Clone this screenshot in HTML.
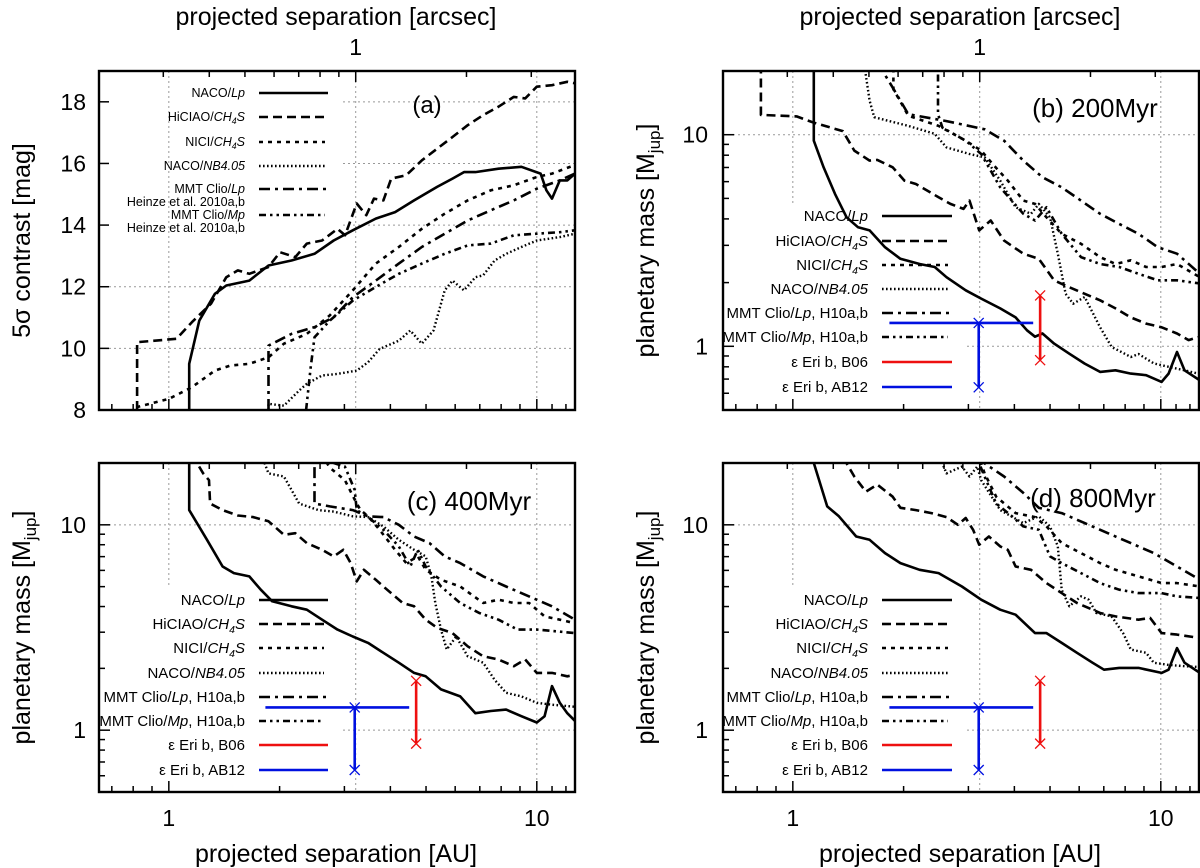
<!DOCTYPE html>
<html><head><meta charset="utf-8"><style>
body{margin:0;background:#fff;}
svg{display:block;font-family:"Liberation Sans",sans-serif;}
</style></head><body>
<svg id="fig" width="1200" height="868" viewBox="0 0 1200 868" xmlns="http://www.w3.org/2000/svg"></svg>
<script>
// ---------- data (separation in AU, contrast in mag / mass in Mjup) ----------
// panel (a) contrast
const aLpX=[1.136,1.136,1.21,1.334,1.433,1.655,1.866,2.154,2.488,2.805,3.162,3.652,4.12,4.64,5.36,5.90,6.34,6.81,7.87,9.08,10.24,10.62,11.0,11.55,12.1,12.7];
const aLpY=[8,9.5,10.9,11.77,12.04,12.2,12.69,12.85,13.07,13.5,13.83,14.21,14.42,14.8,15.24,15.51,15.72,15.72,15.83,15.89,15.67,15.13,14.86,15.45,15.45,15.67];
const aHiX=[0.82,0.82,1.049,1.155,1.302,1.433,1.54,1.655,1.866,2.005,2.207,2.371,2.61,2.873,3.014,3.24,3.44,3.61,3.83,4.02,4.42,4.87,5.36,5.9,6.49,7.15,7.87,8.66,9.3,10,11.0,12.1,12.7];
const aHiY=[8,10.2,10.31,10.85,11.45,12.31,12.53,12.42,12.64,13.12,12.96,13.4,13.5,13.88,13.67,14.7,14.32,14.86,14.8,15.51,15.62,16.1,16.48,16.86,17.24,17.57,17.84,18.16,18.11,18.49,18.54,18.65,18.6];
const aNiX=[0.816,1,1.155,1.334,1.467,1.655,1.866,2.054,2.371,2.738,3.162,3.652,4.217,4.87,5.62,6.49,7.5,8.66,10,11.0,12.7];
const aNiY=[8.09,8.36,8.74,9.28,9.44,9.5,9.71,10.15,10.47,11.07,11.88,12.75,13.29,13.88,14.37,14.8,15.13,15.29,15.56,15.67,15.95];
const aNbX=[1.866,1.866,2.054,2.26,2.371,2.61,2.873,3.24,3.48,3.74,4.217,4.53,4.87,5.24,5.62,5.9,6.34,6.81,7.15,7.68,8.26,9.08,10,11.55,12.7];
const aNbY=[8,8.2,8.14,8.63,8.85,9.12,9.17,9.28,9.55,9.98,10.25,10.58,10.15,10.58,11.88,12.2,11.88,12.31,12.37,12.85,13.07,13.29,13.5,13.61,13.72];
const aClLX=[1.866,1.866,2.154,2.488,2.805,3.162,3.652,4.217,4.87,5.62,6.49,7.5,8.66,10,11.55,12.7];
const aClLY=[8,10.09,10.47,10.69,11.01,11.66,12.2,12.75,13.29,13.72,14.15,14.48,14.8,15.18,15.45,15.67];
const aClMX=[2.36,2.43,2.488,2.738,3.162,3.652,4.217,4.87,5.62,6.49,7.5,8.66,10,11.55,12.7];
const aClMY=[8,9.39,10.36,10.9,11.55,11.99,12.42,12.75,13.07,13.34,13.4,13.67,13.72,13.77,13.83];
// panel (b) 200 Myr mass
const bLpX=[1.14,1.14,1.212,1.302,1.40,1.504,1.617,1.78,1.96,2.21,2.43,2.616,2.95,3.25,3.66,4.03,4.33,4.55,4.77,5.13,5.64,6.21,6.84,7.53,8.29,9.12,10.05,10.5,11.07,11.6,12.77];
const bLpY=[25,9.37,7.01,5.25,4.07,3.65,3.53,2.94,2.59,2.45,2.37,2.12,1.84,1.68,1.51,1.37,1.19,1.11,1.15,1.03,0.923,0.828,0.757,0.77,0.743,0.73,0.679,0.743,0.94,0.77,0.69];
const bHiX=[0.819,0.819,1.024,1.14,1.367,1.469,1.617,1.697,1.868,2.01,2.16,2.32,2.49,2.68,2.91,3.02,3.21,3.45,3.75,4.23,4.66,5.13,5.64,6.21,6.84,7.53,8.29,9.12,10.05,11.07,11.9,12.77];
const bHiY=[25,12.4,12.2,11.4,10.4,8.41,7.54,7.6,7.01,6.07,5.85,5.44,5.06,4.71,4.46,4.88,3.53,3.93,3.16,2.74,2.59,2.05,1.90,1.77,1.65,1.51,1.37,1.28,1.23,1.15,1.07,1.11];
const bNiX=[1.876,1.876,2.06,2.49,2.95,3.25,3.49,3.84,4.23,4.55,4.89,5.38,6.07,6.84,7.53,8.29,9.12,10.05,11.07,12.77];
const bNiY=[25,16.4,12.3,11.0,9.37,8.41,7.27,6.07,4.88,4.71,4.07,3.40,3.05,2.64,2.45,2.55,2.37,2.37,2.45,2.12];
const bNbX=[1.56,1.617,1.664,2.06,2.43,2.616,3.02,3.32,3.66,4.03,4.44,4.66,5.0,5.25,5.51,5.78,6.21,6.84,7.35,8.29,8.7,9.57,10.5,11.6,12.77];
const bNbY=[22,14.5,12.1,11.0,10.1,8.71,8.11,7.82,6.07,4.54,4.23,4.71,4.07,2.74,1.77,1.59,1.71,1.23,0.993,0.89,0.92,0.83,0.80,0.77,0.74];
const bClLX=[1.697,1.868,2.06,2.616,3.32,3.75,4.23,4.77,5.38,6.07,6.84,7.71,8.7,9.81,11.07,12.77];
const bClLY=[22,16.7,12.5,11.6,10.6,9.37,7.54,6.29,5.64,4.88,4.23,3.79,3.40,2.94,2.74,2.20];
const bClMX=[2.48,2.48,2.55,2.95,3.25,3.66,4.23,4.55,4.89,5.38,6.07,6.84,7.71,8.7,9.81,11.07,12.77];
const bClMY=[25,12.5,10.8,9.37,8.11,5.64,4.23,3.93,4.54,3.40,2.64,2.45,2.37,2.20,2.05,2.05,1.98];
// panel (c) 400 Myr mass
const cLpX=[1.136,1.136,1.27,1.40,1.503,1.655,1.778,1.91,2.154,2.371,2.61,2.873,3.162,3.48,3.83,4.217,4.64,4.99,5.49,6.19,6.81,7.5,8.25,9.08,10,10.5,11.0,11.55,12.1,12.7];
const cLpY=[25,11.8,8.45,6.27,5.82,5.61,4.83,4.24,4.01,3.86,3.45,3.09,2.86,2.66,2.38,2.13,1.90,1.83,1.58,1.46,1.21,1.24,1.26,1.17,1.09,1.17,1.64,1.36,1.21,1.11];
const cHiX=[1.155,1.24,1.286,1.295,1.40,1.54,1.695,1.866,2.054,2.207,2.371,2.61,2.805,2.98,3.12,3.24,3.39,3.652,3.92,4.32,4.64,4.99,5.36,5.9,6.49,7.15,7.87,8.66,9.3,10,11.0,12.1,12.7];
const cHiY=[22,17.8,16.5,12.7,11.8,11.1,10.9,10.4,8.94,9.1,8.15,7.56,7.02,7.56,6.51,5.30,6.04,5.40,4.83,4.16,4.01,3.45,3.15,2.97,2.56,2.29,2.21,2.05,2.21,1.90,1.90,1.83,1.86];
const cNiX=[2.6,2.738,3.01,3.24,3.32,3.48,3.74,4.12,4.42,4.75,4.99,5.49,6.19,7.15,7.87,8.66,9.53,10.5,11.55,12.7];
const cNiY=[22,19.0,16.5,12.7,11.8,11.0,9.46,7.56,6.51,7.02,6.04,5.40,5.01,4.16,4.32,4.16,4.16,3.58,3.45,3.32];
const cNbX=[1.82,1.866,2.054,2.154,2.26,2.55,2.805,3.162,3.48,3.83,4.217,4.64,4.99,5.17,5.30,5.49,5.69,6.04,6.49,7.15,7.68,8.25,9.08,10,11.0,12.1,12.7];
const cNbY=[20,17.8,17.2,14.8,12.7,11.8,11.6,11.0,10.9,9.82,8.45,7.56,7.02,5.61,4.16,3.09,2.47,2.86,2.29,2.13,1.76,1.52,1.46,1.36,1.33,1.31,1.30];
const cClLX=[2.488,2.488,2.738,3.162,3.48,3.83,4.217,4.64,5.11,5.62,6.19,7.15,8.25,9.53,11.0,12.7];
const cClLY=[25,12.7,12.3,11.8,11.0,10.9,10.0,8.77,8.15,7.02,6.51,5.61,5.01,4.48,4.01,3.45];
const cClMX=[2.805,3.01,3.20,3.24,3.48,3.83,4.217,4.53,4.75,4.99,5.49,6.19,6.98,7.87,8.87,10,11.3,12.7];
const cClMY=[20,19.2,14.8,11.8,10.9,9.46,7.85,6.27,7.56,6.27,5.01,4.16,3.72,3.45,3.09,3.09,3.03,2.97];
// panel (d) 800 Myr mass
const dLpX=[1.14,1.24,1.334,1.487,1.617,1.78,1.96,2.21,2.49,2.88,3.25,3.66,4.03,4.55,4.89,5.38,5.92,6.52,7.01,7.71,8.7,10.05,10.5,11.07,11.6,12.77];
const dLpY=[20,12.3,11.0,8.77,8.45,7.28,6.51,6.04,5.82,5.01,4.32,3.86,3.65,2.97,2.97,2.66,2.38,2.13,1.97,2.01,2.01,1.90,1.97,2.51,2.13,1.90];
const dHiX=[1.35,1.40,1.469,1.58,1.697,1.868,1.96,2.16,2.38,2.616,2.81,2.95,3.09,3.21,3.41,3.66,3.84,4.03,4.44,4.89,5.38,5.92,6.84,7.53,8.7,9.35,10.05,11.07,12.77];
const dHiY=[25,19.9,17.2,14.5,15.7,13.7,12.1,11.8,11.4,10.9,10.0,10.8,9.46,8.0,8.77,7.85,7.56,6.27,6.04,5.2,4.65,4.16,3.72,3.58,3.45,3.52,2.97,2.92,2.81];
const dNiX=[3.2,3.25,3.32,3.57,4.03,4.55,4.89,5.38,6.07,6.84,7.53,8.7,10.05,11.07,12.77];
const dNiY=[25,19.9,17.8,13.7,11.4,10.9,9.82,8.15,7.28,6.51,6.04,5.61,5.2,5.2,5.01];
const dNbX=[2.5,2.55,2.616,2.88,3.02,3.17,3.25,3.66,4.23,4.66,5.0,5.25,5.38,5.64,6.07,6.37,6.68,7.35,7.9,8.29,9.12,9.57,10.5,11.6,12.7];
const dNbY=[22,19.9,17.8,19.2,17.2,19.2,16.5,11.8,10.2,11.0,9.82,7.85,4.83,4.01,4.48,4.32,3.72,3.58,2.97,2.47,2.38,2.13,2.08,2.05,2.03];
const dClLX=[3.25,3.32,3.75,4.23,4.66,5.38,6.21,7.18,8.29,9.57,11.07,12.77];
const dClLY=[22,19.9,17.2,14.3,12.1,11.4,10.2,9.1,8.15,7.28,6.27,5.40];
const dClMX=[3.15,3.21,3.32,3.57,3.94,4.23,4.66,5.0,5.38,6.07,6.84,7.71,8.7,10.05,11.07,12.77];
const dClMY=[25,19.9,17.2,12.7,11.0,9.82,9.46,7.02,6.51,5.82,5.2,4.83,4.65,4.65,4.48,4.4];
// epsilon Eri b estimates
const epsAB12Sep=[3.2]; const epsAB12SepLo=[1.83]; const epsAB12SepHi=[4.5];
const epsAB12Mass=[1.29]; const epsAB12MassLo=[0.64];
const epsB06Sep=[4.7]; const epsB06MassLo=[0.86]; const epsB06MassHi=[1.74];
// axis ticks
const contrastTicks=[8,10,12,14,16,18];
const massMajor=[1,10];
const massMinor=[0.6,0.7,0.8,0.9,2,3,4,5,6,7,8,9];
const auMajor=[1,10];
const auMinor=[0.7,0.8,0.9,2,3,4,5,6,7,8,9,11,12];
const arcsecMajor=[1];
const arcsecMinor=[0.3,0.4,0.5,0.6,0.7,0.8,0.9,2,3];
const DIST=3.22;

const NS="http://www.w3.org/2000/svg";
const svg=document.getElementById('fig');
function mk(tag,attrs,parent){const e=document.createElementNS(NS,tag);for(const k in attrs)e.setAttribute(k,attrs[k]);(parent||svg).appendChild(e);return e;}
const XMIN=0.646,XMAX=12.7;
const panels={
 a:{x0:99,x1:575,y0:71,y1:410,lin:true,ymin:8,ymax:19},
 b:{x0:723,x1:1199,y0:71,y1:410,ymin:0.5,ymax:20},
 c:{x0:99,x1:575,y0:463,y1:792,ymin:0.5,ymax:20},
 d:{x0:723,x1:1199,y0:463,y1:792,ymin:0.5,ymax:20}
};
function xs(p,v){return p.x0+(Math.log10(v)-Math.log10(XMIN))/(Math.log10(XMAX)-Math.log10(XMIN))*(p.x1-p.x0);}
function ys(p,v){if(p.lin)return p.y1-(v-p.ymin)/(p.ymax-p.ymin)*(p.y1-p.y0);return p.y1-(Math.log10(v)-Math.log10(p.ymin))/(Math.log10(p.ymax)-Math.log10(p.ymin))*(p.y1-p.y0);}

const styles={
 lp:{dash:"",w:2.6},hi:{dash:"9,5",w:2.6},ni:{dash:"4,5",w:2.6},nb:{dash:"1.6,2.4",w:2.4},
 cll:{dash:"11,5,3,5",w:2.6},clm:{dash:"7,4,2.5,4,2.5,4",w:2.6}
};
const seriesSets={
 a:[['naco-lp',aLpX,aLpY,'lp'],['hiciao-ch4s',aHiX,aHiY,'hi'],['nici-ch4s',aNiX,aNiY,'ni'],['naco-nb405',aNbX,aNbY,'nb'],['mmt-clio-lp',aClLX,aClLY,'cll'],['mmt-clio-mp',aClMX,aClMY,'clm']],
 b:[['naco-lp',bLpX,bLpY,'lp'],['hiciao-ch4s',bHiX,bHiY,'hi'],['nici-ch4s',bNiX,bNiY,'ni'],['naco-nb405',bNbX,bNbY,'nb'],['mmt-clio-lp',bClLX,bClLY,'cll'],['mmt-clio-mp',bClMX,bClMY,'clm']],
 c:[['naco-lp',cLpX,cLpY,'lp'],['hiciao-ch4s',cHiX,cHiY,'hi'],['nici-ch4s',cNiX,cNiY,'ni'],['naco-nb405',cNbX,cNbY,'nb'],['mmt-clio-lp',cClLX,cClLY,'cll'],['mmt-clio-mp',cClMX,cClMY,'clm']],
 d:[['naco-lp',dLpX,dLpY,'lp'],['hiciao-ch4s',dHiX,dHiY,'hi'],['nici-ch4s',dNiX,dNiY,'ni'],['naco-nb405',dNbX,dNbY,'nb'],['mmt-clio-lp',dClLX,dClLY,'cll'],['mmt-clio-mp',dClMX,dClMY,'clm']]
};
const legendA=[['NACO/','Lp','','',false],['HiCIAO/','CH','4','S',false],['NICI/','CH','4','S',false],['NACO/','NB4.05','','',false],['MMT Clio/','Lp','','',true],['MMT Clio/','Mp','','',true]];
const legendM=[['NACO/','Lp','',''],['HiCIAO/','CH','4','S'],['NICI/','CH','4','S'],['NACO/','NB4.05','',''],['MMT Clio/','Lp','',', H10a,b'],['MMT Clio/','Mp','',', H10a,b'],['ε Eri b, B06','','',''],['ε Eri b, AB12','','','']];
const legKeys=['lp','hi','ni','nb','cll','clm','red','blue'];

const defs=mk('defs',{});
for(const k in panels){const p=panels[k];const cp=mk('clipPath',{id:'clip'+k},defs);mk('rect',{x:p.x0,y:p.y0,width:p.x1-p.x0,height:p.y1-p.y0},cp);}

function text(x,y,str,size,anchor,name,parent){const t=mk('text',{x:x,y:y,'font-size':size,'text-anchor':anchor||'middle',fill:'#000'},parent);t.textContent=str;


return t;}

const panelInfo={
 a:{legX:245,l0:259,l1:328,rows:[93,117,142,166,189,215],fs:12.5,label:'(a)',lx:427,ly:113,lfs:24,gx1Top:71,gx1Bot:410,boxX:343,boxY1:235},
 b:{legX:868,l0:882,l1:952,rows:[216,241,265,289,313,337,362,387],fs:15,label:'(b) 200Myr',lx:1095,ly:117,lfs:26,gridStop:205,hStart:967},
 c:{legX:245,l0:259,l1:328,rows:[600,624,648,673,697,721,745,770],fs:15,label:'(c) 400Myr',lx:469,ly:510,lfs:26,gridStop:587,hStart:343},
 d:{legX:868,l0:882,l1:952,rows:[600,624,648,673,697,721,745,770],fs:15,label:'(d) 800Myr',lx:1093,ly:507,lfs:26,gridStop:587,hStart:967}
};

for(const k in panels){
 const p=panels[k],info=panelInfo[k];
 const g=mk('g',{});
 
 
 const grid=mk('g',{stroke:'#999','stroke-width':1,'stroke-dasharray':'2,3'},g);
 
 
 // vertical grids
 const xa=xs(p,DIST);
 mk('line',{x1:xa,x2:xa,y1:p.y0,y2:p.y1},grid);
 const x10=xs(p,10);
 mk('line',{x1:x10,x2:x10,y1:p.y0,y2:p.y1},grid);
 const x1=xs(p,1);
 mk('line',{x1:x1,x2:x1,y1:p.y0,y2:(k==='a'?p.y1:info.gridStop)},grid);
 if(p.lin){
  contrastTicks.slice(1).forEach(v=>{const y=ys(p,v);mk('line',{x1:(v>=14?info.boxX:p.x0),x2:p.x1,y1:y,y2:y},grid);});
 } else {
  const y10=ys(p,10),y1=ys(p,1);
  mk('line',{x1:p.x0,x2:p.x1,y1:y10,y2:y10},grid);
  mk('line',{x1:info.hStart,x2:p.x1,y1:y1,y2:y1},grid);
 }
 // series
 const sg=mk('g',{'clip-path':'url(#clip'+k+')',fill:'none',stroke:'#000','stroke-linejoin':'round'},g);
 seriesSets[k].forEach(s=>{
  const st=styles[s[3]];
  const d=s[1].map((v,i)=>(i?'L':'M')+xs(p,v).toFixed(1)+','+ys(p,s[2][i]).toFixed(1)).join(' ');
  const path=mk('path',{d:d,'stroke-width':st.w,'stroke-dasharray':st.dash},sg);
  
  
 });
 // eps Eri markers
 if(!p.lin){
  const mg=mk('g',{'stroke-width':2.6},g);
  
  
  const bx=xs(p,epsAB12Sep[0]),by=ys(p,epsAB12Mass[0]),byl=ys(p,epsAB12MassLo[0]);
  mk('line',{x1:xs(p,epsAB12SepLo[0]),x2:xs(p,epsAB12SepHi[0]),y1:by,y2:by,stroke:'#0010e0'},mg);
  mk('line',{x1:bx,x2:bx,y1:by,y2:byl,stroke:'#0010e0'},mg);
  const rx=xs(p,epsB06Sep[0]),ry0=ys(p,epsB06MassLo[0]),ry1=ys(p,epsB06MassHi[0]);
  mk('line',{x1:rx,x2:rx,y1:ry0,y2:ry1,stroke:'#ee1010'},mg);
  [[bx,by,'#0010e0'],[bx,byl,'#0010e0'],[rx,ry0,'#ee1010'],[rx,ry1,'#ee1010']].forEach(c=>{
   mk('path',{d:`M${c[0]-5},${c[1]-5}L${c[0]+5},${c[1]+5}M${c[0]-5},${c[1]+5}L${c[0]+5},${c[1]-5}`,stroke:c[2],'stroke-width':1.3},mg);
  });
 }
 // legend
 const lg=mk('g',{},g);
 
 
 if(p.lin){
  legendA.forEach((e,i)=>{
   const y=info.rows[i];
   const t=mk('text',{x:info.legX,y:y+4,'font-size':info.fs,'text-anchor':'end'},lg);
   
   
   mk('tspan',{},t).textContent=e[0];
   mk('tspan',{'font-style':'italic'},t).textContent=e[1];
   if(e[2]){mk('tspan',{'font-style':'italic','font-size':info.fs*0.7,dy:3},t).textContent=e[2];mk('tspan',{'font-style':'italic',dy:-3},t).textContent=e[3];}
   if(e[4]){const h=text(info.legX,y+17,'Heinze et al. 2010a,b',info.fs,'end','legend-reference',lg);}
   const st=styles[legKeys[i]];
   mk('line',{x1:info.l0,x2:(legKeys[i]==='ni'||legKeys[i]==='clm'||legKeys[i]==='nb')?info.l1-3:info.l1,y1:y,y2:y,stroke:'#000','stroke-width':st.w,'stroke-dasharray':st.dash},lg);
  });
 } else {
  legendM.forEach((e,i)=>{
   const y=info.rows[i];
   const t=mk('text',{x:info.legX,y:y+5,'font-size':info.fs,'text-anchor':'end'},lg);
   
   
   mk('tspan',{},t).textContent=e[0];
   if(e[1])mk('tspan',{'font-style':'italic'},t).textContent=e[1];
   if(e[2]){mk('tspan',{'font-style':'italic','font-size':info.fs*0.7,dy:4},t).textContent=e[2];mk('tspan',{'font-style':'italic',dy:-4},t).textContent=e[3];}
   else if(e[3]){mk('tspan',{},t).textContent=e[3];}
   const key=legKeys[i];
   if(key==='red'||key==='blue'){
    mk('line',{x1:info.l0,x2:info.l1,y1:y,y2:y,stroke:key==='red'?'#ee1010':'#0010e0','stroke-width':2.6},lg);
   } else {
    const st=styles[key];
    mk('line',{x1:info.l0,x2:(key==='ni'||key==='clm'||key==='nb')?info.l1-4:info.l1,y1:y,y2:y,stroke:'#000','stroke-width':st.w,'stroke-dasharray':st.dash},lg);
   }
  });
 }
 text(info.lx,info.ly,info.label,info.lfs,'middle','panel-label-'+k,g);
 // frame
 const fr=mk('rect',{x:p.x0,y:p.y0,width:p.x1-p.x0,height:p.y1-p.y0,fill:'none',stroke:'#000','stroke-width':2.4},g);
 
 
 // ticks
 const tg=mk('g',{stroke:'#000','stroke-width':1.5},g);
 
 
 auMajor.forEach(v=>{const x=xs(p,v);mk('line',{x1:x,x2:x,y1:p.y1,y2:p.y1-11},tg);});
 auMinor.forEach(v=>{const x=xs(p,v);if(x>p.x0&&x<p.x1)mk('line',{x1:x,x2:x,y1:p.y1,y2:p.y1-6},tg);});
 arcsecMajor.forEach(v=>{const x=xs(p,v*DIST);mk('line',{x1:x,x2:x,y1:p.y0,y2:p.y0+11},tg);});
 arcsecMinor.forEach(v=>{const x=xs(p,v*DIST);if(x>p.x0&&x<p.x1)mk('line',{x1:x,x2:x,y1:p.y0,y2:p.y0+6},tg);});
 const tx=(k==='a'||k==='c')?86:708;
 if(p.lin){
  contrastTicks.forEach(v=>{const y=ys(p,v);mk('line',{x1:p.x0,x2:p.x0+10,y1:y,y2:y},tg);text(tx,y+8,String(v),23,'end','y-tick-label-'+v,g);});
 } else {
  massMajor.forEach(v=>{const y=ys(p,v);mk('line',{x1:p.x0,x2:p.x0+11,y1:y,y2:y},tg);text(tx,y+8,String(v),23,'end','y-tick-label-'+v,g);});
  massMinor.forEach(v=>{const y=ys(p,v);mk('line',{x1:p.x0,x2:p.x0+6,y1:y,y2:y},tg);});
 }
 const cx=(p.x0+p.x1)/2-1;
 if(k==='a'||k==='b'){
  text(xs(p,DIST),55,'1',23,'middle','top-tick-label-1',g);
  text(cx,25,'projected separation [arcsec]',25,'middle','top-axis-title',g);
 } else {
  text(xs(p,1),826,'1',23,'middle','x-tick-label-1',g);
  text(xs(p,10),826,'10',23,'middle','x-tick-label-10',g);
  text(cx,862,'projected separation [AU]',25,'middle','x-axis-title',g);
 }
 // y-axis title
 const yx=(k==='a')?30:(k==='c'?30:654), yc=(p.y0+p.y1)/2;
 const yt=mk('text',{x:0,y:0,'font-size':25,'text-anchor':'middle',transform:`translate(${yx},${yc}) rotate(-90)`},g);
 
 
 if(p.lin){yt.textContent='5σ contrast [mag]';}
 else{mk('tspan',{},yt).textContent='planetary mass [M';mk('tspan',{'font-size':17,dy:6},yt).textContent='jup';mk('tspan',{dy:-6},yt).textContent=']';}
}
</script>
</body></html>
